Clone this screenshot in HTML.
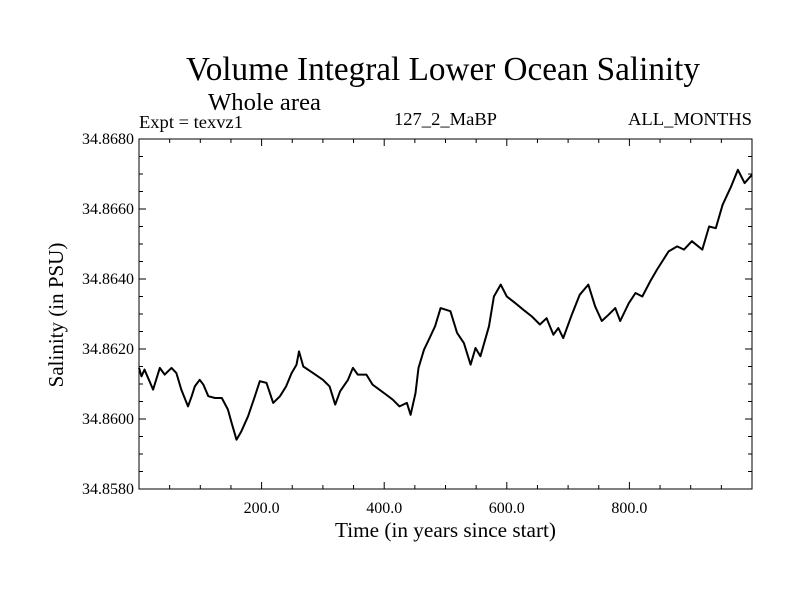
<!DOCTYPE html>
<html><head><meta charset="utf-8"><style>
html,body{margin:0;padding:0;background:#fff;}
svg{display:block;font-family:"Liberation Serif",serif;}
</style></head><body>
<svg id="chart" width="800" height="600" viewBox="0 0 800 600">
<rect width="800" height="600" fill="#fff"/>
<text x="186" y="80" font-size="34" textLength="514" lengthAdjust="spacingAndGlyphs">Volume Integral Lower Ocean Salinity</text>
<text x="208" y="110" font-size="24" textLength="113" lengthAdjust="spacingAndGlyphs">Whole area</text>
<text x="139" y="128" font-size="18" textLength="104" lengthAdjust="spacingAndGlyphs">Expt = texvz1</text>
<text x="394" y="125" font-size="18" textLength="103" lengthAdjust="spacingAndGlyphs">127_2_MaBP</text>
<text x="628" y="125" font-size="18" textLength="124" lengthAdjust="spacingAndGlyphs">ALL_MONTHS</text>
<g id="axes"></g>
<text x="335" y="537" font-size="21" textLength="221" lengthAdjust="spacingAndGlyphs">Time (in years since start)</text>
<text transform="translate(63,315) rotate(-90)" font-size="21" text-anchor="middle">Salinity (in PSU)</text>
</svg>
<script>
const years = [0,4,9,23,34,42,53,61,69,80,86,91,99,105,113,124,135,145,151,159,167,178,189,197,208,219,230,240,249,257,261,268,284,300,311,320,328,341,349,357,371,381,392,403,414,425,437,443,451,456,465,473,483,492,508,519,530,541,549,557,571,579,590,600,614,627,641,654,665,676,684,692,706,719,733,744,755,766,777,785,799,810,821,834,845,864,878,889,902,919,930,941,952,966,977,988,1000];
const salinity = [34.86146,34.86122,34.86141,34.86084,34.86146,34.86127,34.86146,34.86131,34.86084,34.86036,34.86065,34.86093,34.86112,34.86098,34.86065,34.8606,34.8606,34.86027,34.85989,34.85941,34.85965,34.86008,34.86065,34.86108,34.86103,34.86046,34.86065,34.86093,34.86131,34.86155,34.86193,34.8615,34.86131,34.86112,34.86093,34.86041,34.86079,34.86112,34.86146,34.86127,34.86127,34.86098,34.86084,34.8607,34.86055,34.86036,34.86046,34.86012,34.86074,34.86146,34.86198,34.86227,34.86265,34.86317,34.86308,34.86246,34.86217,34.86155,34.86203,34.86179,34.86265,34.8635,34.86384,34.8635,34.86331,34.86312,34.86293,34.8627,34.86288,34.86241,34.8626,34.86231,34.86298,34.86355,34.86384,34.86322,34.8628,34.86298,34.86317,34.8628,34.86331,34.8636,34.8635,34.86393,34.86427,34.86479,34.86493,34.86484,34.86508,34.86484,34.8655,34.86545,34.86612,34.86665,34.86712,34.86674,34.86698];
const xTicks = [200,400,600,800];
const xTickLabels = ["200.0","400.0","600.0","800.0"];
const yTicks = [34.858,34.860,34.862,34.864,34.866,34.868];
const yTickLabels = ["34.8580","34.8600","34.8620","34.8640","34.8660","34.8680"];

const L=139,R=752,T=139,B=489,X0=0,X1=1000,Y0=34.858,Y1=34.868;
const sx=v=>L+(v-X0)/(X1-X0)*(R-L);
const sy=v=>B-(v-Y0)/(Y1-Y0)*(B-T);
const NS="http://www.w3.org/2000/svg";
const g=document.getElementById('axes');
function mk(tag,attrs){const e=document.createElementNS(NS,tag);for(const k in attrs)e.setAttribute(k,attrs[k]);g.appendChild(e);return e;}

const frame=mk('rect',{x:L,y:T,width:R-L,height:B-T,fill:'none',stroke:'#000','stroke-width':1});



for(let v=50;v<X1;v+=50){
  const major=v%200===0, len=major?7:4, x=sx(v);
  const t1=mk('line',{x1:x,y1:B,x2:x,y2:B-len,stroke:'#000'});
  
  
  const t2=mk('line',{x1:x,y1:T,x2:x,y2:T+len,stroke:'#000'});
  
  
}
for(let i=1;i<20;i++){
  const v=Y0+i*0.0005, major=i%4===0, len=major?7:4, y=sy(v);
  const t1=mk('line',{x1:L,y1:y,x2:L+len,y2:y,stroke:'#000'});
  
  
  const t2=mk('line',{x1:R,y1:y,x2:R-len,y2:y,stroke:'#000'});
  
  
}
xTicks.forEach((v,i)=>{
  const t=mk('text',{x:sx(v),y:B+24,'font-size':16,'text-anchor':'middle'});
  t.textContent=xTickLabels[i];
  
  
});
yTicks.forEach((v,i)=>{
  const t=mk('text',{x:L-5,y:sy(v)+5,'font-size':16,'text-anchor':'end'});
  t.textContent=yTickLabels[i];
  
  
});
const d=years.map((yr,i)=>(i?'L':'M')+sx(yr).toFixed(1)+','+sy(salinity[i]).toFixed(1)).join(' ');
const p=mk('path',{d:d,fill:'none',stroke:'#000','stroke-width':2,'stroke-linejoin':'round'});


</script>
</body></html>
